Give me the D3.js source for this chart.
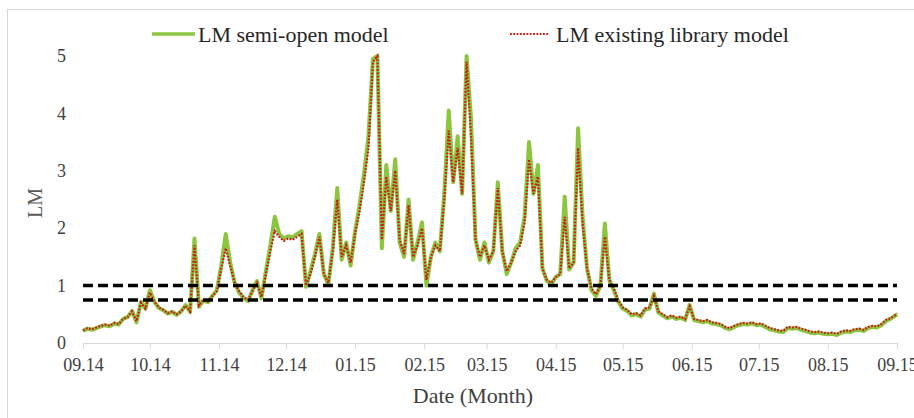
<!DOCTYPE html>
<html>
<head>
<meta charset="utf-8">
<script src="https://cdn.jsdelivr.net/npm/d3@7"></script>
<style>
  body { margin: 0; background: #fff; }
</style>
</head>
<body>
<div id="app"></div>
<script>
// LM values every 2 days, starting 2014-09-01 (last value at 2015-09-01)
const existingLib = [
  0.22, 0.26, 0.24, 0.27, 0.30, 0.32, 0.30, 0.35, 0.33, 0.42,
  0.45, 0.55, 0.38, 0.70, 0.60, 0.88, 0.72, 0.62, 0.58, 0.52,
  0.55, 0.50, 0.55, 0.65, 0.55, 1.70, 0.65, 0.75, 0.72, 0.82,
  0.90, 1.30, 1.65, 1.35, 1.05, 0.90, 0.80, 0.75, 0.90, 1.05,
  0.80, 1.20, 1.60, 1.95, 1.85, 1.78, 1.82, 1.80, 1.85, 1.90,
  1.00, 1.20, 1.50, 1.85, 1.20, 1.05, 1.60, 2.50, 1.50, 1.70,
  1.40, 1.90, 2.30, 2.80, 3.40, 4.90, 5.00, 1.80, 2.90, 2.30,
  3.00, 1.80, 1.55, 2.40, 1.50, 1.70, 2.00, 1.10, 1.50, 1.70,
  1.60, 2.50, 3.70, 2.80, 3.40, 2.60, 4.90, 3.60, 1.80, 1.50,
  1.70, 1.45, 1.60, 2.70, 1.60, 1.25, 1.40, 1.60, 1.70, 2.10,
  3.20, 2.60, 2.90, 1.30, 1.10, 1.05, 1.15, 1.20, 2.20, 1.30,
  1.40, 3.40, 2.10, 1.30, 0.95, 0.85, 1.00, 1.85, 1.10, 0.95,
  0.75, 0.62, 0.58, 0.50, 0.52, 0.48, 0.60, 0.62, 0.82, 0.55,
  0.50, 0.45, 0.48, 0.44, 0.46, 0.42, 0.64, 0.42, 0.40, 0.38,
  0.40, 0.36, 0.35, 0.33, 0.28, 0.26, 0.30, 0.33, 0.35, 0.34,
  0.36, 0.33, 0.34, 0.30, 0.26, 0.24, 0.22, 0.21, 0.28, 0.27,
  0.28, 0.25, 0.23, 0.20, 0.19, 0.20, 0.18, 0.17, 0.18, 0.16,
  0.20, 0.22, 0.21, 0.24, 0.25, 0.23, 0.28, 0.30, 0.29, 0.33,
  0.40, 0.43, 0.48, 0.52
];

const semiOpen = [
  0.21, 0.25, 0.23, 0.26, 0.29, 0.31, 0.29, 0.34, 0.32, 0.42,
  0.45, 0.56, 0.36, 0.72, 0.60, 0.92, 0.72, 0.61, 0.57, 0.51,
  0.54, 0.49, 0.55, 0.66, 0.54, 1.82, 0.63, 0.74, 0.71, 0.82,
  0.92, 1.35, 1.90, 1.40, 1.05, 0.88, 0.78, 0.73, 0.92, 1.08,
  0.78, 1.25, 1.70, 2.20, 1.90, 1.82, 1.86, 1.84, 1.90, 1.95,
  0.98, 1.25, 1.55, 1.90, 1.20, 1.02, 1.65, 2.70, 1.45, 1.75,
  1.35, 1.95, 2.40, 2.95, 3.60, 4.95, 5.00, 1.65, 3.10, 2.30,
  3.20, 1.75, 1.50, 2.50, 1.45, 1.75, 2.10, 1.00, 1.50, 1.75,
  1.60, 2.60, 4.05, 2.80, 3.60, 2.60, 5.00, 3.90, 1.80, 1.45,
  1.75, 1.40, 1.60, 2.80, 1.60, 1.20, 1.40, 1.65, 1.75, 2.20,
  3.50, 2.60, 3.10, 1.30, 1.08, 1.02, 1.15, 1.20, 2.55, 1.28,
  1.40, 3.74, 2.20, 1.30, 0.92, 0.82, 1.00, 2.08, 1.10, 0.92,
  0.72, 0.60, 0.56, 0.48, 0.50, 0.46, 0.58, 0.60, 0.86, 0.53,
  0.48, 0.43, 0.46, 0.42, 0.44, 0.40, 0.66, 0.40, 0.38, 0.36,
  0.38, 0.34, 0.33, 0.31, 0.26, 0.24, 0.28, 0.31, 0.33, 0.32,
  0.34, 0.31, 0.32, 0.28, 0.24, 0.22, 0.20, 0.19, 0.26, 0.25,
  0.26, 0.23, 0.21, 0.18, 0.17, 0.18, 0.16, 0.15, 0.16, 0.14,
  0.18, 0.20, 0.19, 0.22, 0.23, 0.21, 0.26, 0.28, 0.27, 0.31,
  0.38, 0.42, 0.47, 0.50
];

const thresholds = [1, 0.75];
const monthLabels = ["09.14", "10.14", "11.14", "12.14", "01.15", "02.15", "03.15",
                     "04.15", "05.15", "06.15", "07.15", "08.15", "09.15"];
const yTicks = [0, 1, 2, 3, 4, 5];

const FONT = "'Liberation Serif', 'Times New Roman', Times, serif";

const W = 914, H = 418;
const margin = { top: 56, right: 17, bottom: 75, left: 83 };
const width = W - margin.left - margin.right;
const height = H - margin.top - margin.bottom;

const start = new Date(2014, 8, 1);
const end = new Date(2015, 8, 1);
const dates = existingLib.map((d, i) => d3.min([d3.timeDay.offset(start, 2 * i), end]));
const monthTicks = d3.timeMonth.range(start, d3.timeDay.offset(end, 1));

const x = d3.scaleTime().domain([start, end]).range([0, width]);
const y = d3.scaleLinear().domain([0, 5]).range([height, 0]);

const svg = d3.select("#app").append("svg")
  .attr("width", W).attr("height", H)
  .style("font-family", FONT);

// outer frame
svg.append("rect")
  .attr("x", 7.5).attr("y", 9.5)
  .attr("width", W + 10).attr("height", H + 10)
  .attr("fill", "none").attr("stroke", "#d9d9d9");

const g = svg.append("g").attr("transform", `translate(${margin.left},${margin.top})`);

// x axis
const xAxis = g.append("g")
  .attr("transform", `translate(0,${height})`)
  .call(d3.axisBottom(x).tickValues(monthTicks).tickSize(6)
    .tickFormat((d, i) => monthLabels[i]));
xAxis.select(".domain").attr("stroke", "#d9d9d9");
xAxis.selectAll(".tick line").attr("stroke", "#d9d9d9");
xAxis.selectAll(".tick text")
  .style("font-family", FONT)
  .attr("font-size", 18).attr("fill", "#404040")
  .attr("dy", "1.05em");

// y axis labels only
const yAxis = g.append("g")
  .call(d3.axisLeft(y).tickValues(yTicks).tickSize(0).tickPadding(17)
    .tickFormat(d3.format("d")));
yAxis.select(".domain").remove();
yAxis.selectAll(".tick text")
  .style("font-family", FONT)
  .attr("font-size", 18).attr("fill", "#404040");

const line = d3.line()
  .x((d, i) => x(dates[i]))
  .y(d => y(d));

g.append("path")
  .datum(semiOpen)
  .attr("d", line)
  .attr("fill", "none")
  .attr("stroke", "#8cc63f")
  .attr("stroke-width", 4)
  .attr("stroke-linejoin", "round");

g.append("path")
  .datum(existingLib)
  .attr("d", line)
  .attr("fill", "none")
  .attr("stroke", "#cc1a1a")
  .attr("stroke-width", 2.2)
  .attr("stroke-dasharray", "1.8,1.5");

// threshold dashed lines
g.selectAll(".thr")
  .data(thresholds)
  .join("line")
  .attr("x1", 0).attr("x2", width)
  .attr("y1", d => y(d)).attr("y2", d => y(d))
  .attr("stroke", "#000")
  .attr("stroke-width", 3.5)
  .attr("stroke-dasharray", "10,5");

// legend
const legend = svg.append("g");
legend.append("line")
  .attr("x1", 152).attr("x2", 195).attr("y1", 34).attr("y2", 34)
  .attr("stroke", "#8cc63f").attr("stroke-width", 3.5);
legend.append("text")
  .attr("x", 198).attr("y", 42)
  .style("font-family", FONT)
  .attr("font-size", 22).attr("fill", "#262626")
  .text("LM semi-open model");
legend.append("line")
  .attr("x1", 510).attr("x2", 549).attr("y1", 34).attr("y2", 34)
  .attr("stroke", "#cc1a1a").attr("stroke-width", 2.2)
  .attr("stroke-dasharray", "1.8,1.5");
legend.append("text")
  .attr("x", 556).attr("y", 42)
  .style("font-family", FONT)
  .attr("font-size", 22).attr("fill", "#262626")
  .text("LM existing library model");

// axis titles
svg.append("text")
  .attr("x", 473).attr("y", 403)
  .attr("text-anchor", "middle")
  .style("font-family", FONT)
  .attr("font-size", 22).attr("fill", "#404040")
  .text("Date (Month)");

svg.append("text")
  .attr("transform", "translate(42,203) rotate(-90)")
  .attr("text-anchor", "middle")
  .style("font-family", FONT)
  .attr("font-size", 20).attr("fill", "#595959")
  .text("LM");
</script>
</body>
</html>
